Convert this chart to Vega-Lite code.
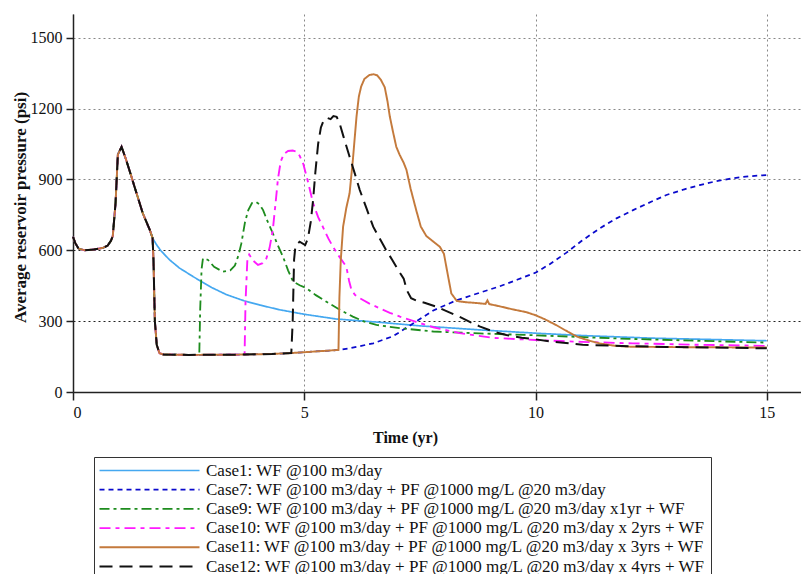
{
  "$schema": "https://vega.github.io/schema/vega-lite/v6.json",
  "autosize": "none",
  "padding": {"left": 73, "top": 14, "right": 0, "bottom": 182},
  "width": 728,
  "height": 378,
  "background": "white",
  "config": {
    "view": {"stroke": null},
    "font": "Liberation Serif"
  },
  "datasets": {
    "pressure": [
      {"case": "Case1", "t": 0, "p": 657}, {"case": "Case1", "t": 0.05, "p": 630}, {"case": "Case1", "t": 0.12, "p": 607}, {"case": "Case1", "t": 0.25, "p": 600}, {"case": "Case1", "t": 0.45, "p": 603}, {"case": "Case1", "t": 0.65, "p": 610}, {"case": "Case1", "t": 0.75, "p": 620}, {"case": "Case1", "t": 0.82, "p": 640}, {"case": "Case1", "t": 0.86, "p": 660}, {"case": "Case1", "t": 0.92, "p": 800}, {"case": "Case1", "t": 0.97, "p": 1005}, {"case": "Case1", "t": 1.05, "p": 1038}, {"case": "Case1", "t": 1.15, "p": 982}, {"case": "Case1", "t": 1.25, "p": 920}, {"case": "Case1", "t": 1.33, "p": 869}, {"case": "Case1", "t": 1.51, "p": 756}, {"case": "Case1", "t": 1.66, "p": 686},
      {"case": "Case1", "t": 1.72, "p": 652}, {"case": "Case1", "t": 1.8, "p": 625}, {"case": "Case1", "t": 1.9, "p": 598}, {"case": "Case1", "t": 2.09, "p": 559}, {"case": "Case1", "t": 2.3, "p": 525}, {"case": "Case1", "t": 2.6, "p": 488}, {"case": "Case1", "t": 3.0, "p": 442}, {"case": "Case1", "t": 3.32, "p": 412}, {"case": "Case1", "t": 3.7, "p": 386}, {"case": "Case1", "t": 4.04, "p": 368}, {"case": "Case1", "t": 4.47, "p": 348}, {"case": "Case1", "t": 5.0, "p": 329}, {"case": "Case1", "t": 5.69, "p": 309}, {"case": "Case1", "t": 6.63, "p": 295}, {"case": "Case1", "t": 7.5, "p": 280}, {"case": "Case1", "t": 8.79, "p": 263}, {"case": "Case1", "t": 10, "p": 249}, {"case": "Case1", "t": 11, "p": 239}, {"case": "Case1", "t": 12.5, "p": 228}, {"case": "Case1", "t": 15, "p": 217},

      {"case": "Case7", "t": 0, "p": 657}, {"case": "Case7", "t": 0.05, "p": 630}, {"case": "Case7", "t": 0.12, "p": 607}, {"case": "Case7", "t": 0.25, "p": 600}, {"case": "Case7", "t": 0.45, "p": 603}, {"case": "Case7", "t": 0.65, "p": 610}, {"case": "Case7", "t": 0.75, "p": 620}, {"case": "Case7", "t": 0.82, "p": 640}, {"case": "Case7", "t": 0.86, "p": 660}, {"case": "Case7", "t": 0.92, "p": 800}, {"case": "Case7", "t": 0.97, "p": 1005}, {"case": "Case7", "t": 1.05, "p": 1038}, {"case": "Case7", "t": 1.15, "p": 982}, {"case": "Case7", "t": 1.25, "p": 920}, {"case": "Case7", "t": 1.33, "p": 869}, {"case": "Case7", "t": 1.51, "p": 756}, {"case": "Case7", "t": 1.66, "p": 686},
      {"case": "Case7", "t": 1.72, "p": 652}, {"case": "Case7", "t": 1.74, "p": 560}, {"case": "Case7", "t": 1.77, "p": 300}, {"case": "Case7", "t": 1.81, "p": 200}, {"case": "Case7", "t": 1.87, "p": 164}, {"case": "Case7", "t": 1.95, "p": 159}, {"case": "Case7", "t": 2.5, "p": 157}, {"case": "Case7", "t": 3.5, "p": 158}, {"case": "Case7", "t": 4.3, "p": 161}, {"case": "Case7", "t": 4.73, "p": 165}, {"case": "Case7", "t": 5.2, "p": 171}, {"case": "Case7", "t": 5.74, "p": 178},
      {"case": "Case7", "t": 6.0, "p": 186}, {"case": "Case7", "t": 6.49, "p": 206}, {"case": "Case7", "t": 6.92, "p": 236}, {"case": "Case7", "t": 7.36, "p": 291}, {"case": "Case7", "t": 7.79, "p": 345}, {"case": "Case7", "t": 8.29, "p": 388}, {"case": "Case7", "t": 8.79, "p": 420}, {"case": "Case7", "t": 9.22, "p": 447}, {"case": "Case7", "t": 9.6, "p": 475}, {"case": "Case7", "t": 10.0, "p": 505}, {"case": "Case7", "t": 10.3, "p": 540}, {"case": "Case7", "t": 10.67, "p": 590}, {"case": "Case7", "t": 11.0, "p": 640}, {"case": "Case7", "t": 11.39, "p": 693}, {"case": "Case7", "t": 11.75, "p": 735}, {"case": "Case7", "t": 12.11, "p": 770}, {"case": "Case7", "t": 12.5, "p": 805}, {"case": "Case7", "t": 12.83, "p": 834}, {"case": "Case7", "t": 13.2, "p": 857}, {"case": "Case7", "t": 13.55, "p": 876}, {"case": "Case7", "t": 13.9, "p": 892}, {"case": "Case7", "t": 14.27, "p": 905}, {"case": "Case7", "t": 14.6, "p": 913}, {"case": "Case7", "t": 15, "p": 918},

      {"case": "Case9", "t": 0, "p": 657}, {"case": "Case9", "t": 0.05, "p": 630}, {"case": "Case9", "t": 0.12, "p": 607}, {"case": "Case9", "t": 0.25, "p": 600}, {"case": "Case9", "t": 0.45, "p": 603}, {"case": "Case9", "t": 0.65, "p": 610}, {"case": "Case9", "t": 0.75, "p": 620}, {"case": "Case9", "t": 0.82, "p": 640}, {"case": "Case9", "t": 0.86, "p": 660}, {"case": "Case9", "t": 0.92, "p": 800}, {"case": "Case9", "t": 0.97, "p": 1005}, {"case": "Case9", "t": 1.05, "p": 1038}, {"case": "Case9", "t": 1.15, "p": 982}, {"case": "Case9", "t": 1.25, "p": 920}, {"case": "Case9", "t": 1.33, "p": 869}, {"case": "Case9", "t": 1.51, "p": 756}, {"case": "Case9", "t": 1.66, "p": 686},
      {"case": "Case9", "t": 1.72, "p": 652}, {"case": "Case9", "t": 1.74, "p": 560}, {"case": "Case9", "t": 1.77, "p": 300}, {"case": "Case9", "t": 1.81, "p": 200}, {"case": "Case9", "t": 1.87, "p": 164}, {"case": "Case9", "t": 1.95, "p": 159}, {"case": "Case9", "t": 2.5, "p": 157}, {"case": "Case9", "t": 2.73, "p": 157},
      {"case": "Case9", "t": 2.75, "p": 350}, {"case": "Case9", "t": 2.78, "p": 520}, {"case": "Case9", "t": 2.81, "p": 566}, {"case": "Case9", "t": 2.92, "p": 559}, {"case": "Case9", "t": 3.05, "p": 530}, {"case": "Case9", "t": 3.24, "p": 509}, {"case": "Case9", "t": 3.4, "p": 515}, {"case": "Case9", "t": 3.5, "p": 535}, {"case": "Case9", "t": 3.58, "p": 580}, {"case": "Case9", "t": 3.64, "p": 629}, {"case": "Case9", "t": 3.72, "p": 720}, {"case": "Case9", "t": 3.79, "p": 770}, {"case": "Case9", "t": 3.87, "p": 800}, {"case": "Case9", "t": 3.95, "p": 805}, {"case": "Case9", "t": 4.03, "p": 795}, {"case": "Case9", "t": 4.11, "p": 770}, {"case": "Case9", "t": 4.2, "p": 725}, {"case": "Case9", "t": 4.32, "p": 672}, {"case": "Case9", "t": 4.43, "p": 620}, {"case": "Case9", "t": 4.54, "p": 573}, {"case": "Case9", "t": 4.65, "p": 515}, {"case": "Case9", "t": 4.76, "p": 467}, {"case": "Case9", "t": 4.9, "p": 452}, {"case": "Case9", "t": 5.05, "p": 439}, {"case": "Case9", "t": 5.25, "p": 410}, {"case": "Case9", "t": 5.48, "p": 382}, {"case": "Case9", "t": 5.75, "p": 350}, {"case": "Case9", "t": 6.05, "p": 319}, {"case": "Case9", "t": 6.3, "p": 298}, {"case": "Case9", "t": 6.56, "p": 284}, {"case": "Case9", "t": 7.07, "p": 270}, {"case": "Case9", "t": 7.79, "p": 256}, {"case": "Case9", "t": 8.79, "p": 248}, {"case": "Case9", "t": 10, "p": 240}, {"case": "Case9", "t": 12, "p": 225}, {"case": "Case9", "t": 15, "p": 209},

      {"case": "Case10", "t": 0, "p": 657}, {"case": "Case10", "t": 0.05, "p": 630}, {"case": "Case10", "t": 0.12, "p": 607}, {"case": "Case10", "t": 0.25, "p": 600}, {"case": "Case10", "t": 0.45, "p": 603}, {"case": "Case10", "t": 0.65, "p": 610}, {"case": "Case10", "t": 0.75, "p": 620}, {"case": "Case10", "t": 0.82, "p": 640}, {"case": "Case10", "t": 0.86, "p": 660}, {"case": "Case10", "t": 0.92, "p": 800}, {"case": "Case10", "t": 0.97, "p": 1005}, {"case": "Case10", "t": 1.05, "p": 1038}, {"case": "Case10", "t": 1.15, "p": 982}, {"case": "Case10", "t": 1.25, "p": 920}, {"case": "Case10", "t": 1.33, "p": 869}, {"case": "Case10", "t": 1.51, "p": 756}, {"case": "Case10", "t": 1.66, "p": 686},
      {"case": "Case10", "t": 1.72, "p": 652}, {"case": "Case10", "t": 1.74, "p": 560}, {"case": "Case10", "t": 1.77, "p": 300}, {"case": "Case10", "t": 1.81, "p": 200}, {"case": "Case10", "t": 1.87, "p": 164}, {"case": "Case10", "t": 1.95, "p": 159}, {"case": "Case10", "t": 2.5, "p": 157}, {"case": "Case10", "t": 3.5, "p": 158}, {"case": "Case10", "t": 3.71, "p": 159},
      {"case": "Case10", "t": 3.73, "p": 380}, {"case": "Case10", "t": 3.77, "p": 560}, {"case": "Case10", "t": 3.81, "p": 582}, {"case": "Case10", "t": 3.9, "p": 555}, {"case": "Case10", "t": 4.0, "p": 538}, {"case": "Case10", "t": 4.1, "p": 545}, {"case": "Case10", "t": 4.18, "p": 565}, {"case": "Case10", "t": 4.25, "p": 610}, {"case": "Case10", "t": 4.32, "p": 686}, {"case": "Case10", "t": 4.38, "p": 800}, {"case": "Case10", "t": 4.43, "p": 900}, {"case": "Case10", "t": 4.49, "p": 975}, {"case": "Case10", "t": 4.56, "p": 1008}, {"case": "Case10", "t": 4.65, "p": 1020}, {"case": "Case10", "t": 4.75, "p": 1022}, {"case": "Case10", "t": 4.83, "p": 1018}, {"case": "Case10", "t": 4.9, "p": 1000}, {"case": "Case10", "t": 4.98, "p": 965}, {"case": "Case10", "t": 5.08, "p": 890}, {"case": "Case10", "t": 5.19, "p": 800}, {"case": "Case10", "t": 5.3, "p": 740}, {"case": "Case10", "t": 5.4, "p": 700}, {"case": "Case10", "t": 5.52, "p": 650}, {"case": "Case10", "t": 5.62, "p": 615}, {"case": "Case10", "t": 5.75, "p": 575}, {"case": "Case10", "t": 5.91, "p": 530}, {"case": "Case10", "t": 5.97, "p": 470}, {"case": "Case10", "t": 6.02, "p": 432}, {"case": "Case10", "t": 6.1, "p": 410}, {"case": "Case10", "t": 6.2, "p": 397}, {"case": "Case10", "t": 6.4, "p": 375}, {"case": "Case10", "t": 6.63, "p": 354}, {"case": "Case10", "t": 6.85, "p": 335}, {"case": "Case10", "t": 7.07, "p": 319}, {"case": "Case10", "t": 7.4, "p": 298}, {"case": "Case10", "t": 7.79, "p": 274}, {"case": "Case10", "t": 8.36, "p": 249}, {"case": "Case10", "t": 9.08, "p": 229}, {"case": "Case10", "t": 10, "p": 220}, {"case": "Case10", "t": 11, "p": 212}, {"case": "Case10", "t": 12.1, "p": 206}, {"case": "Case10", "t": 13.5, "p": 200}, {"case": "Case10", "t": 15, "p": 195},

      {"case": "Case11", "t": 0, "p": 657}, {"case": "Case11", "t": 0.05, "p": 630}, {"case": "Case11", "t": 0.12, "p": 607}, {"case": "Case11", "t": 0.25, "p": 600}, {"case": "Case11", "t": 0.45, "p": 603}, {"case": "Case11", "t": 0.65, "p": 610}, {"case": "Case11", "t": 0.75, "p": 620}, {"case": "Case11", "t": 0.82, "p": 640}, {"case": "Case11", "t": 0.86, "p": 660}, {"case": "Case11", "t": 0.92, "p": 800}, {"case": "Case11", "t": 0.97, "p": 1005}, {"case": "Case11", "t": 1.05, "p": 1038}, {"case": "Case11", "t": 1.15, "p": 982}, {"case": "Case11", "t": 1.25, "p": 920}, {"case": "Case11", "t": 1.33, "p": 869}, {"case": "Case11", "t": 1.51, "p": 756}, {"case": "Case11", "t": 1.66, "p": 686},
      {"case": "Case11", "t": 1.72, "p": 652}, {"case": "Case11", "t": 1.74, "p": 560}, {"case": "Case11", "t": 1.77, "p": 300}, {"case": "Case11", "t": 1.81, "p": 200}, {"case": "Case11", "t": 1.87, "p": 164}, {"case": "Case11", "t": 1.95, "p": 159}, {"case": "Case11", "t": 2.5, "p": 157}, {"case": "Case11", "t": 3.5, "p": 158}, {"case": "Case11", "t": 4.3, "p": 161}, {"case": "Case11", "t": 4.73, "p": 165}, {"case": "Case11", "t": 5.2, "p": 171}, {"case": "Case11", "t": 5.74, "p": 178},
      {"case": "Case11", "t": 5.76, "p": 400}, {"case": "Case11", "t": 5.79, "p": 560}, {"case": "Case11", "t": 5.84, "p": 700}, {"case": "Case11", "t": 5.91, "p": 780}, {"case": "Case11", "t": 5.98, "p": 841}, {"case": "Case11", "t": 6.05, "p": 980}, {"case": "Case11", "t": 6.13, "p": 1166}, {"case": "Case11", "t": 6.18, "p": 1250}, {"case": "Case11", "t": 6.23, "p": 1293}, {"case": "Case11", "t": 6.3, "p": 1325}, {"case": "Case11", "t": 6.41, "p": 1342}, {"case": "Case11", "t": 6.5, "p": 1345}, {"case": "Case11", "t": 6.58, "p": 1340}, {"case": "Case11", "t": 6.66, "p": 1320}, {"case": "Case11", "t": 6.74, "p": 1290}, {"case": "Case11", "t": 6.8, "p": 1230}, {"case": "Case11", "t": 6.85, "p": 1166}, {"case": "Case11", "t": 6.92, "p": 1100}, {"case": "Case11", "t": 6.99, "p": 1038}, {"case": "Case11", "t": 7.06, "p": 1005}, {"case": "Case11", "t": 7.15, "p": 970}, {"case": "Case11", "t": 7.21, "p": 940}, {"case": "Case11", "t": 7.3, "p": 860}, {"case": "Case11", "t": 7.42, "p": 770}, {"case": "Case11", "t": 7.52, "p": 700}, {"case": "Case11", "t": 7.64, "p": 660}, {"case": "Case11", "t": 7.8, "p": 635}, {"case": "Case11", "t": 7.93, "p": 615}, {"case": "Case11", "t": 8.02, "p": 585}, {"case": "Case11", "t": 8.1, "p": 500}, {"case": "Case11", "t": 8.18, "p": 417}, {"case": "Case11", "t": 8.3, "p": 385}, {"case": "Case11", "t": 8.5, "p": 380}, {"case": "Case11", "t": 8.7, "p": 377}, {"case": "Case11", "t": 8.92, "p": 373}, {"case": "Case11", "t": 8.96, "p": 388}, {"case": "Case11", "t": 9.0, "p": 372}, {"case": "Case11", "t": 9.22, "p": 363}, {"case": "Case11", "t": 9.5, "p": 350}, {"case": "Case11", "t": 9.8, "p": 338}, {"case": "Case11", "t": 10, "p": 325}, {"case": "Case11", "t": 10.2, "p": 308}, {"case": "Case11", "t": 10.45, "p": 283}, {"case": "Case11", "t": 10.7, "p": 255}, {"case": "Case11", "t": 10.9, "p": 234}, {"case": "Case11", "t": 11.15, "p": 218}, {"case": "Case11", "t": 11.4, "p": 205}, {"case": "Case11", "t": 11.7, "p": 196}, {"case": "Case11", "t": 12, "p": 192}, {"case": "Case11", "t": 13, "p": 190}, {"case": "Case11", "t": 15, "p": 188},

      {"case": "Case12", "t": 0, "p": 657}, {"case": "Case12", "t": 0.05, "p": 630}, {"case": "Case12", "t": 0.12, "p": 607}, {"case": "Case12", "t": 0.25, "p": 600}, {"case": "Case12", "t": 0.45, "p": 603}, {"case": "Case12", "t": 0.65, "p": 610}, {"case": "Case12", "t": 0.75, "p": 620}, {"case": "Case12", "t": 0.82, "p": 640}, {"case": "Case12", "t": 0.86, "p": 660}, {"case": "Case12", "t": 0.92, "p": 800}, {"case": "Case12", "t": 0.97, "p": 1005}, {"case": "Case12", "t": 1.05, "p": 1038}, {"case": "Case12", "t": 1.15, "p": 982}, {"case": "Case12", "t": 1.25, "p": 920}, {"case": "Case12", "t": 1.33, "p": 869}, {"case": "Case12", "t": 1.51, "p": 756}, {"case": "Case12", "t": 1.66, "p": 686},
      {"case": "Case12", "t": 1.72, "p": 652}, {"case": "Case12", "t": 1.74, "p": 560}, {"case": "Case12", "t": 1.77, "p": 300}, {"case": "Case12", "t": 1.81, "p": 200}, {"case": "Case12", "t": 1.87, "p": 164}, {"case": "Case12", "t": 1.95, "p": 159}, {"case": "Case12", "t": 2.5, "p": 157}, {"case": "Case12", "t": 3.5, "p": 158}, {"case": "Case12", "t": 4.3, "p": 161}, {"case": "Case12", "t": 4.72, "p": 165},
      {"case": "Case12", "t": 4.75, "p": 300}, {"case": "Case12", "t": 4.78, "p": 560}, {"case": "Case12", "t": 4.81, "p": 620}, {"case": "Case12", "t": 4.9, "p": 636}, {"case": "Case12", "t": 5.02, "p": 622}, {"case": "Case12", "t": 5.08, "p": 650}, {"case": "Case12", "t": 5.14, "p": 720}, {"case": "Case12", "t": 5.19, "p": 810}, {"case": "Case12", "t": 5.24, "p": 930}, {"case": "Case12", "t": 5.3, "p": 1050}, {"case": "Case12", "t": 5.36, "p": 1120}, {"case": "Case12", "t": 5.43, "p": 1155}, {"case": "Case12", "t": 5.5, "p": 1160}, {"case": "Case12", "t": 5.57, "p": 1155}, {"case": "Case12", "t": 5.63, "p": 1168}, {"case": "Case12", "t": 5.7, "p": 1165}, {"case": "Case12", "t": 5.76, "p": 1140}, {"case": "Case12", "t": 5.85, "p": 1080}, {"case": "Case12", "t": 5.98, "p": 996}, {"case": "Case12", "t": 6.1, "p": 920}, {"case": "Case12", "t": 6.2, "p": 855}, {"case": "Case12", "t": 6.35, "p": 775}, {"case": "Case12", "t": 6.49, "p": 700}, {"case": "Case12", "t": 6.63, "p": 650}, {"case": "Case12", "t": 6.77, "p": 601}, {"case": "Case12", "t": 6.9, "p": 560}, {"case": "Case12", "t": 7.05, "p": 510}, {"case": "Case12", "t": 7.15, "p": 480}, {"case": "Case12", "t": 7.22, "p": 430}, {"case": "Case12", "t": 7.31, "p": 397}, {"case": "Case12", "t": 7.45, "p": 385}, {"case": "Case12", "t": 7.6, "p": 378}, {"case": "Case12", "t": 7.86, "p": 361}, {"case": "Case12", "t": 8.1, "p": 340}, {"case": "Case12", "t": 8.36, "p": 318}, {"case": "Case12", "t": 8.6, "p": 295}, {"case": "Case12", "t": 8.79, "p": 278}, {"case": "Case12", "t": 9.1, "p": 255}, {"case": "Case12", "t": 9.37, "p": 241}, {"case": "Case12", "t": 9.7, "p": 230}, {"case": "Case12", "t": 10, "p": 223}, {"case": "Case12", "t": 10.4, "p": 212}, {"case": "Case12", "t": 11.02, "p": 200}, {"case": "Case12", "t": 12, "p": 194}, {"case": "Case12", "t": 12.83, "p": 191}, {"case": "Case12", "t": 15, "p": 185}
    ]
  },
  "layer": [
    {
      "data": {"name": "pressure"},
      "mark": {"type": "line", "interpolate": "linear"},
      "encoding": {
        "x": {
          "field": "t",
          "type": "quantitative",
          "scale": {"domain": [0, 15.74], "nice": false, "zero": false},
          "axis": {
            "values": [0, 5, 10, 15],
            "format": "d",
            "title": "Time (yr)",
            "titleFont": "Liberation Serif",
            "titleFontSize": 16,
            "titleFontWeight": "bold",
            "titleColor": "#111",
            "titleX": 332,
            "titleY": 45,
            "titleBaseline": "middle",
            "titleAlign": "center",
            "labelFont": "Liberation Serif",
            "labelFontSize": 16,
            "labelColor": "#111",
            "labelPadding": 4,
            "tickSize": 8,
            "tickColor": "#222",
            "tickWidth": 1.5,
            "domainColor": "#222",
            "domainWidth": 1.5,
            "grid": true,
            "gridColor": "#888",
            "gridDash": [2, 3],
            "gridWidth": 1
          }
        },
        "y": {
          "field": "p",
          "type": "quantitative",
          "scale": {"domain": [0, 1600], "nice": false},
          "axis": {
            "values": [0, 300, 600, 900, 1200, 1500],
            "format": "d",
            "title": "Average reservoir pressure (psi)",
            "titleFont": "Liberation Serif",
            "titleFontSize": 17,
            "titleFontWeight": "bold",
            "titleColor": "#111",
            "titleX": -53,
            "titleY": 193,
            "titleAngle": -90,
            "titleBaseline": "middle",
            "titleAlign": "center",
            "labelFont": "Liberation Serif",
            "labelFontSize": 16,
            "labelColor": "#111",
            "labelPadding": 4,
            "tickSize": 7,
            "tickColor": "#222",
            "tickWidth": 1.5,
            "domainColor": "#222",
            "domainWidth": 1.5,
            "grid": true,
            "gridColor": {"condition": {"test": "datum.value <= 600", "value": "#222"}, "value": "#888"},
            "gridDash": [2, 3],
            "gridWidth": 1
          }
        },
        "color": {
          "field": "case",
          "type": "nominal",
          "scale": {
            "domain": ["Case1", "Case7", "Case9", "Case10", "Case11", "Case12"],
            "range": ["#45a8f0", "#0a0acc", "#1e8c1e", "#ff1aff", "#c47a3c", "#111111"]
          },
          "legend": {
            "orient": "none",
            "legendX": 21,
            "legendY": 443,
            "title": null,
            "direction": "vertical",
            "columns": 1,
            "symbolType": "M-10,0H10",
            "symbolSize": 100,
            "symbolStrokeWidth": 1.8,
            "symbolFillColor": "transparent",
            "symbolOffset": 42,
            "labelOffset": 48,
            "labelFont": "Liberation Serif",
            "labelFontSize": 17,
            "labelColor": "#111",
            "labelLimit": 0,
            "rowPadding": 1.2,
            "padding": 5,
            "strokeColor": "#333",
            "fillColor": "white",
            "labelExpr": "{'Case1': 'Case1: WF @100 m3/day', 'Case7': 'Case7: WF @100 m3/day + PF @1000 mg/L @20 m3/day', 'Case9': 'Case9: WF @100 m3/day + PF @1000 mg/L @20 m3/day x1yr + WF', 'Case10': 'Case10: WF @100 m3/day + PF @1000 mg/L @20 m3/day x 2yrs + WF', 'Case11': 'Case11: WF @100 m3/day + PF @1000 mg/L @20 m3/day x 3yrs + WF', 'Case12': 'Case12: WF @100 m3/day + PF @1000 mg/L @20 m3/day x 4yrs + WF'}[datum.label]"
          }
        },
        "strokeDash": {
          "field": "case",
          "type": "nominal",
          "scale": {
            "domain": ["Case1", "Case7", "Case9", "Case10", "Case11", "Case12"],
            "range": [[1, 0], [5, 4], [10, 4, 3, 4], [11, 5, 4, 5], [1, 0], [13, 7]]
          }
        },
        "strokeWidth": {
          "field": "case",
          "type": "nominal",
          "scale": {
            "domain": ["Case1", "Case7", "Case9", "Case10", "Case11", "Case12"],
            "range": [1.7, 2, 1.6, 1.7, 1.5, 2]
          },
          "legend": null
        }
      }
    },
    {
      "mark": {"type": "rule", "color": "#222", "strokeWidth": 1.5},
      "encoding": {"y": {"datum": 1600, "type": "quantitative"}}
    }
  ]
}
